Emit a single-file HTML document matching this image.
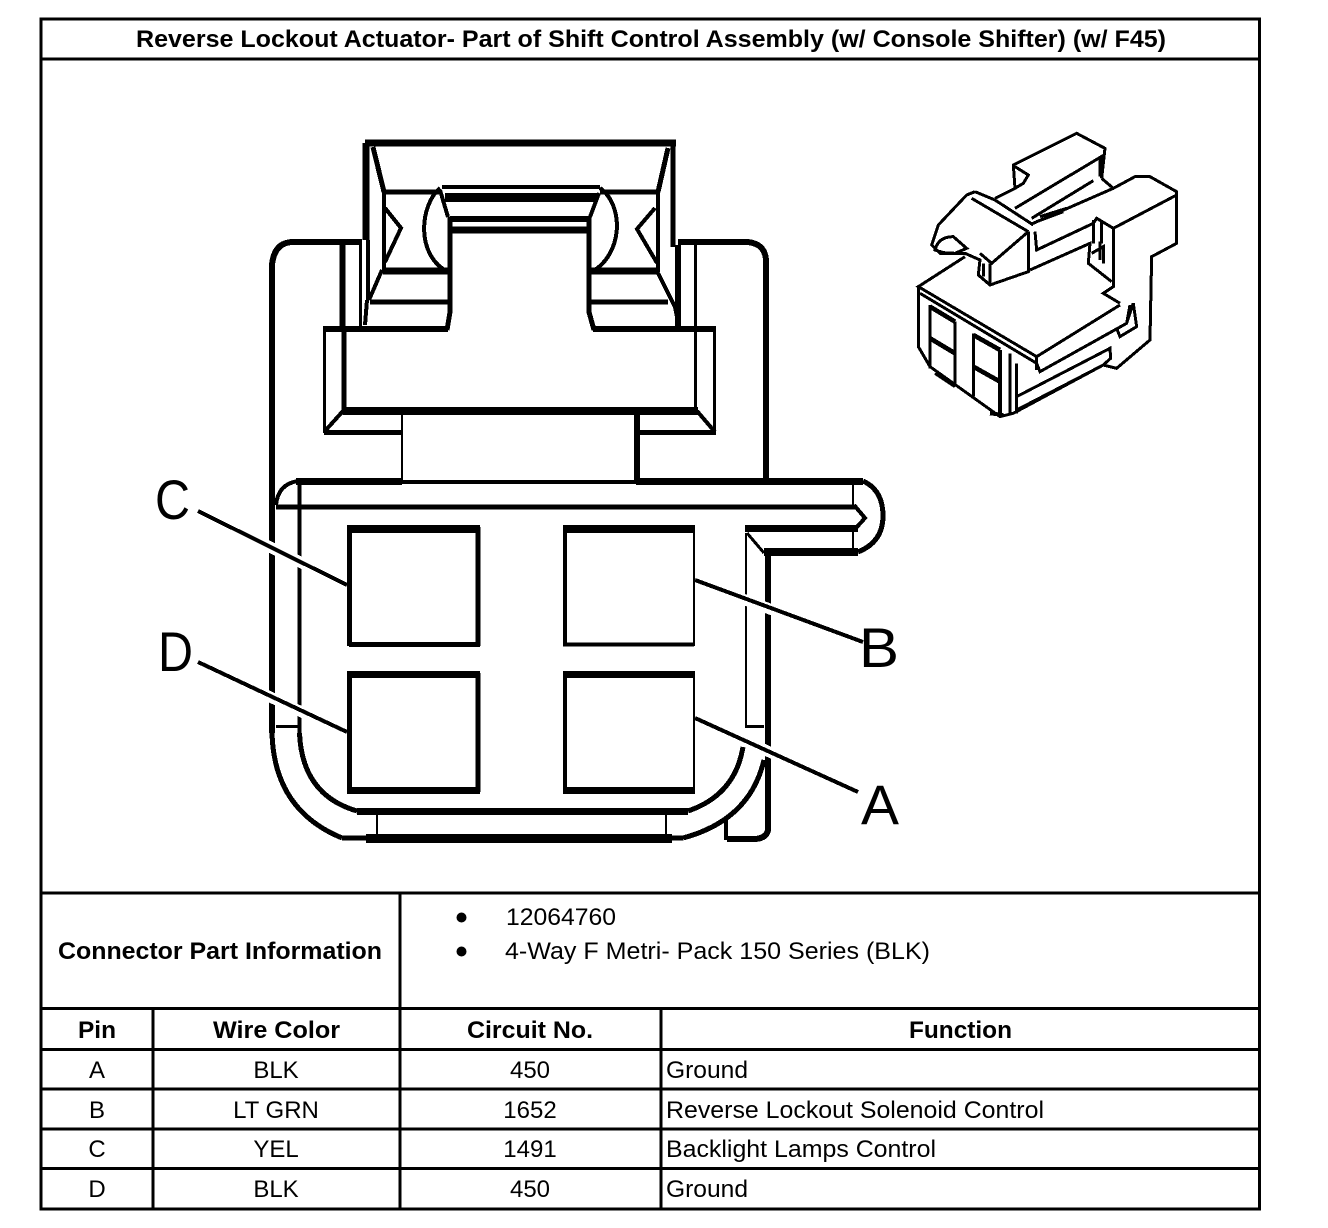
<!DOCTYPE html>
<html><head><meta charset="utf-8"><style>
html,body{margin:0;padding:0;background:#fff}
svg{display:block}
text{font-family:"Liberation Sans",sans-serif;font-size:24px;fill:#000;stroke:none}
.b{font-weight:bold}
.m{text-anchor:middle}
.l{font-size:56px}
</style></head><body>
<svg width="1328" height="1228" viewBox="0 0 1328 1228" xmlns="http://www.w3.org/2000/svg">
<rect width="1328" height="1228" fill="#fff"/>
<g fill="none" stroke="#000" shape-rendering="crispEdges">
<!-- table frame -->
<rect x="41" y="19" width="1218.5" height="1190" stroke-width="3"/>
<path stroke-width="3" d="M41 59H1260M41 893H1260M41 1008.500H1260M41 1049.500H1260M41 1089H1260M41 1129H1260M41 1168.500H1260"/>
<path stroke-width="3" d="M400 893V1209M153 1008V1209M661 1008V1209"/>

<!-- upper latch -->
<path stroke-width="7" d="M365 143H676"/>
<path stroke-width="7" d="M366 143V240"/>
<path stroke-width="5" d="M673 143V247"/>
<path stroke-width="4" d="M368 240V300M367 300L365 325"/>
<path stroke-width="5" d="M373 147L384 192M668 148L658 192"/>
<path stroke-width="5" d="M384 192H442M600 192H658"/>
<path stroke-width="4" d="M442 187H600"/>
<path stroke-width="9" d="M445 197.500H598"/>
<path stroke-width="6" d="M450 219H590"/>
<path stroke-width="7" d="M451 230H587"/>
<path stroke-width="5" d="M450 217V312L447 330M589 217V312L594 330"/>
<path stroke-width="7" d="M383 271H450M590 271H659"/>
<path stroke-width="5" d="M370 302H450M590 302H668"/>
<path stroke-width="4" d="M384 192V272M658 192V272"/>
<path stroke-width="4" d="M382 270L369 300M658 273L675 307L679 327"/>
<path stroke-width="4" d="M385 208L401 228L385 262M655 208L637 229L657 263"/>
<path stroke-width="4" d="M440 188C420 205 415 255 448 272M600 188C624 205 624 255 590 273"/>
<path stroke-width="4" d="M440 190L448 217M599 193L590 217"/>

<!-- back body -->
<path stroke-width="6" d="M272 480V265Q274 243 292 242H362M678 242H748Q766 244 766 262V480"/>
<path stroke-width="6" d="M342.500 245V327M678 245V327"/>
<path stroke-width="3" d="M360.500 245V327M695.500 245V410"/>

<!-- crossbar -->
<path stroke-width="6" d="M323 329H448M593 329H716"/>
<path stroke-width="3" d="M324.500 329V433M714.500 329V433"/>
<path stroke-width="5" d="M344 329V411"/>
<path stroke-width="8" d="M343 411H698"/>
<path stroke-width="4" d="M343 411L325 431M697 411L715 432"/>
<path stroke-width="5" d="M324 432.500H402M638 432.500H716"/>
<path stroke-width="2" d="M402 415V480"/>
<path stroke-width="6" d="M637 415V482"/>

<!-- lower shell -->
<path stroke-width="4" d="M402 482H636"/>
<path stroke-width="7" d="M296 481.500H402M636 481.500H863"/>
<path stroke-width="4" d="M298 481Q278 484 276 505"/>
<path stroke-width="5" d="M276 507H856"/>
<path stroke-width="6" d="M272 480V733"/>
<path stroke-width="4" d="M299.500 483V733"/>
<path stroke-width="5" d="M863 481Q883 490 883 516T858 552"/>
<path stroke-width="2" d="M853 485V505M853 530V550"/>
<path stroke-width="4" d="M854 505L865 518L856 528"/>
<path stroke-width="7" d="M745 528.500H858"/>
<path stroke-width="8" d="M764 552H858"/>
<path stroke-width="3" d="M747 533L764 553"/>
<path stroke-width="2" d="M746 533V727"/>
<path stroke-width="6" d="M768 553V830Q766 840 750 839H727"/>
<path stroke-width="4" d="M726 820V840"/>
<path stroke-width="3" d="M276 726.500H298M745 726.500H764"/>
<path stroke-width="5" d="M272 733Q274 810 342 838M299.500 733Q302 795 357 811"/>
<path stroke-width="5" d="M743 747Q735 795 688 811M764 760Q750 820 683 838"/>
<path stroke-width="7" d="M357 811.500H688"/>
<path stroke-width="5" d="M342 838H683"/>
<path stroke-width="9" d="M366 838.500H672"/>
<path stroke-width="2" d="M377 815V834M666 815V834"/>

<!-- pin cavities -->
<path stroke-width="5" d="M349.500 527V646M478 527V646M349 644.500H480M349 528.500H480" />
<path stroke-width="8" d="M347 529H480"/>
<path stroke-width="4" d="M565 527V646M563 644.500H694"/>
<path stroke-width="2" d="M694 527V646"/>
<path stroke-width="8" d="M563 529H695"/>
<path stroke-width="5" d="M349.500 673V792M478 673V792"/>
<path stroke-width="7" d="M347 674.500H480M347 790.500H480"/>
<path stroke-width="4" d="M565 673V792"/>
<path stroke-width="2" d="M694 673V792"/>
<path stroke-width="7" d="M563 674.500H695M563 790.500H695"/>
</g>

<!-- leaders with halos -->
<g fill="none" shape-rendering="crispEdges">
<path stroke="#fff" stroke-width="11" d="M262 543L310 567M262 693L310 716M740 598L778 612M735 736L776 755"/>
<path stroke="#000" stroke-width="4" d="M198 511L347 585M198 662L347 732M695 580L863 642M695 718L858 792"/>
</g>

<!-- isometric view -->
<g transform="translate(900 120) scale(.3333)" fill="none" stroke="#000" stroke-width="9" stroke-linejoin="miter" shape-rendering="crispEdges">
<path d="M285 235L345 205L340 135L510 50L530 40L615 85L605 175"/>
<path d="M345 140L385 165L370 190L345 205"/>
<path d="M612 105L345 265M610 105L605 175M600 115V170"/>
<path d="M605 175L640 205L705 170L750 170L830 215V370L755 410L750 660L650 745L610 735L632 715L630 685L350 830"/>
<path d="M580 182L395 295M640 205L395 312M830 225L640 325V500L610 520L660 550"/>
<path d="M420 290L500 265M410 305L490 275"/>
<path d="M225 215L200 225L115 315L95 375L120 400L195 400L240 420L235 465L270 495L385 455V335"/>
<path d="M385 335L275 430L240 400M270 430V495M250 430V470"/>
<path d="M105 390Q115 350 160 350L200 385L165 400L130 398Z"/>
<path d="M390 450L570 370L565 430L635 485M405 335L410 390L580 310M580 300V370M605 300V370M640 325L590 295L580 310M575 400L610 380V430M600 365V420"/>
<path d="M215 235L385 335M225 215L285 240L400 315"/>
<path d="M195 410L55 500L410 710L660 555M60 520L410 730L420 755L680 610L700 550L710 620L660 650L650 625"/>
<path d="M55 500V680L90 740L300 890L340 880L610 735"/>
<path d="M90 555V745M165 605V790M220 640V830M300 690V880M330 700V880M350 730V880M350 870L610 735M410 710V750M680 610L690 555M105 760L165 800"/>
<path stroke-width="14" d="M90 560L165 605M90 655L165 700M220 645L300 690M220 740L300 785"/>
<path stroke-width="12" d="M300 690V880M270 880L310 885"/>
</g>

<!-- callout letters -->
<text class="l" x="155" y="519" textLength="35" lengthAdjust="spacingAndGlyphs">C</text>
<text class="l" x="158" y="671" textLength="35" lengthAdjust="spacingAndGlyphs">D</text>
<text class="l" x="859" y="667" textLength="40" lengthAdjust="spacingAndGlyphs">B</text>
<text class="l" x="861" y="824" textLength="38" lengthAdjust="spacingAndGlyphs">A</text>

<!-- table text -->
<text class="b" x="136" y="47" textLength="1030" lengthAdjust="spacingAndGlyphs">Reverse Lockout Actuator- Part of Shift Control Assembly (w/ Console Shifter) (w/ F45)</text>
<text class="b" x="58" y="959" textLength="324" lengthAdjust="spacingAndGlyphs">Connector Part Information</text>
<circle cx="461.500" cy="917.500" r="5" fill="#000"/>
<circle cx="461.500" cy="951.500" r="5" fill="#000"/>
<text x="506" y="925" textLength="110" lengthAdjust="spacingAndGlyphs">12064760</text>
<text x="505" y="959" textLength="425" lengthAdjust="spacingAndGlyphs">4-Way F Metri- Pack 150 Series (BLK)</text>

<text class="b" x="78" y="1038" textLength="38" lengthAdjust="spacingAndGlyphs">Pin</text>
<text class="b" x="213" y="1038" textLength="127" lengthAdjust="spacingAndGlyphs">Wire Color</text>
<text class="b" x="467" y="1038" textLength="126" lengthAdjust="spacingAndGlyphs">Circuit No.</text>
<text class="b" x="909" y="1038" textLength="103" lengthAdjust="spacingAndGlyphs">Function</text>

<text class="m" x="97" y="1078">A</text>
<text class="m" x="276" y="1078">BLK</text>
<text class="m" x="530" y="1078">450</text>
<text x="666" y="1078" textLength="82" lengthAdjust="spacingAndGlyphs">Ground</text>

<text class="m" x="97" y="1118">B</text>
<text class="m" x="276" y="1118">LT GRN</text>
<text class="m" x="530" y="1118">1652</text>
<text x="666" y="1118" textLength="378" lengthAdjust="spacingAndGlyphs">Reverse Lockout Solenoid Control</text>

<text class="m" x="97" y="1157">C</text>
<text class="m" x="276" y="1157">YEL</text>
<text class="m" x="530" y="1157">1491</text>
<text x="666" y="1157" textLength="270" lengthAdjust="spacingAndGlyphs">Backlight Lamps Control</text>

<text class="m" x="97" y="1197">D</text>
<text class="m" x="276" y="1197">BLK</text>
<text class="m" x="530" y="1197">450</text>
<text x="666" y="1197" textLength="82" lengthAdjust="spacingAndGlyphs">Ground</text>
</svg>
</body></html>
